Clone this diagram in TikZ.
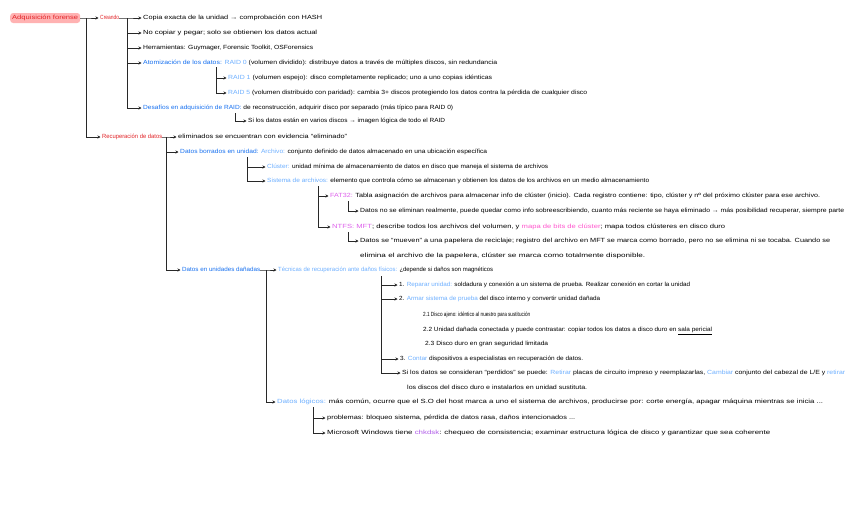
\documentclass[tikz,border=0pt]{standalone}
\usepackage{fontspec}
\setmainfont{Liberation Sans}
\usepackage{graphicx}
\usetikzlibrary{arrows.meta}
\definecolor{cred}{RGB}{226,36,40}
\definecolor{cpink}{RGB}{255,178,178}
\definecolor{cblue}{RGB}{22,112,240}
\definecolor{clblue}{RGB}{110,176,255}
\definecolor{cmag}{RGB}{222,96,236}
\definecolor{chot}{RGB}{255,86,206}
\definecolor{cpur}{RGB}{176,92,232}
\definecolor{cline}{RGB}{40,40,40}
\newcommand\fitw[2]{\resizebox{#1pt}{\height}{#2}}
\newcommand\cb[1]{\textcolor{cblue}{#1}}
\newcommand\clb[1]{\textcolor{clblue}{#1}}
\newcommand\cm[1]{\textcolor{cmag}{#1}}
\newcommand\chp[1]{\textcolor{chot}{#1}}
\newcommand\cpu[1]{\textcolor{cpur}{#1}}
\begin{document}
\begin{tikzpicture}[x=1pt,y=-1pt,
  txt/.style={anchor=west, inner sep=0pt, font=\fontsize{6}{7}\selectfont, text height=4.5pt, text depth=1.5pt},
  rootbox/.style={txt, fill=cpink, rounded corners=3pt, inner xsep=2pt, inner ysep=2pt, text=cred},
  con/.style={draw=cline, line width=0.8pt, -{Stealth[length=3pt,width=3pt]}, shorten >=1.5pt}]
\fill[white] (0,0) rectangle (848,530);
\useasboundingbox (0,0) rectangle (848,530);

% ---- nodes
\node[rootbox] (root) at (10,18) {\fitw{66}{Adquisición forense}};
\node[txt, text=cred] (creando) at (100,18) {\fitw{19}{Creando}};
\node[txt] (c1) at (143,18) {\fitw{179}{Copia exacta de la unidad → comprobación con HASH}};
\node[txt] (c2) at (143,33) {\fitw{174}{No copiar y pegar; solo se obtienen los datos actual}};
\node[txt] (c3) at (143,48) {\fitw{170}{Herramientas: Guymager, Forensic Toolkit, OSForensics}};
\node[txt] (atom) at (143,63) {\fitw{354}{\cb{Atomización de los datos:} \clb{RAID 0} (volumen dividido): distribuye datos a través de múltiples discos, sin redundancia}};
\node[txt] (raid1) at (228,78) {\fitw{264}{\clb{RAID 1} (volumen espejo): disco completamente replicado; uno a uno copias idénticas}};
\node[txt] (raid5) at (228,93) {\fitw{359}{\clb{RAID 5} (volumen distribuido con paridad): cambia 3+ discos protegiendo los datos contra la pérdida de cualquier disco}};
\node[txt] (desaf) at (143,108) {\fitw{310}{\cb{Desafíos en adquisición de RAID:} de reconstrucción, adquirir disco por separado (más típico para RAID 0)}};
\node[txt] (sidat) at (248,121) {\fitw{197}{Si los datos están en varios discos → imagen lógica de todo el RAID}};

\node[txt, text=cred] (recup) at (102,137) {\fitw{60}{Recuperación de datos}};
\node[txt] (elim) at (178,137) {\fitw{169}{eliminados se encuentran con evidencia “eliminado”}};
\node[txt] (borr) at (180,152) {\fitw{307}{\cb{Datos borrados en unidad:} \clb{Archivo:} conjunto definido de datos almacenado en una ubicación específica}};
\node[txt] (clus) at (267,167) {\fitw{281}{\clb{Clúster:} unidad mínima de almacenamiento de datos en disco que maneja el sistema de archivos}};
\node[txt] (sist) at (267,181) {\fitw{382}{\clb{Sistema de archivos:} elemento que controla cómo se almacenan y obtienen los datos de los archivos en un medio almacenamiento}};
\node[txt] (fat) at (330,196) {\fitw{490}{\cm{FAT32:} Tabla asignación de archivos para almacenar info de clúster (inicio). Cada registro contiene: tipo, clúster y nº del próximo clúster para ese archivo.}};
\node[txt] (fatc) at (360,211) {\fitw{484}{Datos no se eliminan realmente, puede quedar como info sobreescribiendo, cuanto más reciente se haya eliminado → más posibilidad recuperar, siempre parte}};
\node[txt] (ntfs) at (332,227) {\fitw{393}{\cm{NTFS:} \cm{MFT}; describe todos los archivos del volumen, y \chp{mapa de bits de clúster}; mapa todos clústeres en disco duro}};
\node[txt] (ntfsc) at (360,241) {\fitw{470}{Datos se “mueven” a una papelera de reciclaje; registro del archivo en MFT se marca como borrado, pero no se elimina ni se tocaba. Cuando se}};
\node[txt] (ntfsc2) at (360,256) {\fitw{285}{elimina el archivo de la papelera, clúster se marca como totalmente disponible.}};

\node[txt] (dan) at (182,270) {\fitw{78}{\cb{Datos en unidades dañadas}}};
\node[txt] (tecn) at (278,270) {\fitw{215}{\clb{Técnicas de recuperación ante daños físicos:} ¿depende si daños son magnéticos}};
\node[txt] (i1) at (399,285) {\fitw{291}{1. \clb{Reparar unidad:} soldadura y conexión a un sistema de prueba. Realizar conexión en cortar la unidad}};
\node[txt] (i2) at (399,299) {\fitw{201}{2. \clb{Armar sistema de prueba} del disco interno y convertir unidad dañada}};
\node[txt] (s21) at (423,315) {\fitw{107}{2.1 Disco ajeno: idéntico al nuestro para sustitución}};
\node[txt] (s22) at (423,330) {\fitw{289}{2.2 Unidad dañada conectada y puede contrastar: copiar todos los datos a disco duro en \underline{sala pericial}}};
\node[txt] (s23) at (425,344) {\fitw{123}{2.3 Disco duro en gran seguridad limitada}};
\node[txt] (i3) at (400,359) {\fitw{183}{3. \clb{Contar} dispositivos a especialistas en recuperación de datos.}};
\node[txt] (i4) at (402,373) {\fitw{443}{Si los datos se consideran “perdidos” se puede: \clb{Retirar} placas de circuito impreso y reemplazarlas, \clb{Cambiar} conjunto del cabezal de L/E y \clb{retirar}}};
\node[txt] (i4b) at (407,388) {\fitw{180}{los discos del disco duro e instalarlos en unidad sustituta.}};
\node[txt] (logic) at (277,402) {\fitw{546}{\clb{Datos lógicos:} más común, ocurre que el S.O del host marca a uno el sistema de archivos, producirse por: corte energía, apagar máquina mientras se inicia ...}};
\node[txt] (p1) at (327,418) {\fitw{248}{problemas: bloqueo sistema, pérdida de datos rasa, daños intencionados ...}};
\node[txt] (p2) at (327,433) {\fitw{443}{Microsoft Windows tiene \cpu{chkdsk}: chequeo de consistencia; examinar estructura lógica de disco y garantizar que sea coherente}};

% ---- spine coordinates
\coordinate (sp0) at (86,18);
\coordinate (sp1) at (127,18);
\coordinate (sp2) at (216,67);
\coordinate (sp3) at (235,113);
\coordinate (sp4) at (166,137);
\coordinate (sp5) at (247,157);
\coordinate (sp6) at (318,186);
\coordinate (sp7) at (348,201);
\coordinate (sp8) at (348,232);
\coordinate (sp9) at (266,270);
\coordinate (sp10) at (381,276);
\coordinate (sp11) at (313,407);

% ---- connectors
\draw[con] (root.east) -- (sp0) -- (creando.west);
\draw[con] (sp0) |- (recup.west);
\draw[con] (creando.east) -- (sp1) -- (c1.west);
\draw[con] (sp1) |- (c2.west);
\draw[con] (sp1) |- (c3.west);
\draw[con] (sp1) |- (atom.west);
\draw[con] (sp1) |- (desaf.west);
\draw[con] (sp2) |- (raid1.west);
\draw[con] (sp2) |- (raid5.west);
\draw[con] (sp3) |- (sidat.west);
\draw[con] (recup.east) -- (sp4) -- (elim.west);
\draw[con] (sp4) |- (borr.west);
\draw[con] (sp4) |- (dan.west);
\draw[con] (sp5) |- (clus.west);
\draw[con] (sp5) |- (sist.west);
\draw[con] (sp6) |- (fat.west);
\draw[con] (sp6) |- (ntfs.west);
\draw[con] (sp7) |- (fatc.west);
\draw[con] (sp8) |- (ntfsc.west);
\draw[con] (dan.east) -- (sp9) -- (tecn.west);
\draw[con] (sp9) |- (logic.west);
\draw[con] (sp10) |- (i1.west);
\draw[con] (sp10) |- (i2.west);
\draw[con] (sp10) |- (i3.west);
\draw[con] (sp10) |- (i4.west);
\draw[con] (sp11) |- (p1.west);
\draw[con] (sp11) |- (p2.west);
\end{tikzpicture}
\end{document}
